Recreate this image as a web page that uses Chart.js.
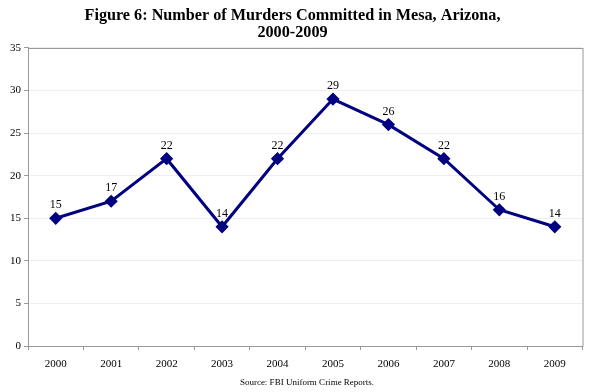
<!DOCTYPE html>
<html>
<head>
<meta charset="utf-8">
<script src="https://cdn.jsdelivr.net/npm/chart.js@4/dist/chart.umd.min.js"></script>
<style>
  html, body { margin: 0; padding: 0; background: #fff; }
  #wrap { width: 590px; height: 392px; }
</style>
</head>
<body>
<div id="wrap"><canvas id="murderChart"></canvas></div>
<script>
// Chart data
const years = ["2000", "2001", "2002", "2003", "2004", "2005", "2006", "2007", "2008", "2009"];
const murders = [15, 17, 22, 14, 22, 29, 26, 22, 16, 14];
const yTicks = [0, 5, 10, 15, 20, 25, 30, 35];
const sourceNote = "Source: FBI Uniform Crime Reports.";

// Draw the value above each point, a border around the plot area and the source note
const valueLabels = {
    id: "valueLabels",
    afterDatasetsDraw(chart) {
        const ctx = chart.ctx;
        const area = chart.chartArea;
        ctx.save();
        ctx.strokeStyle = "#999";
        ctx.lineWidth = 1;
        ctx.strokeRect(area.left + 0.5, area.top + 0.5, area.right - area.left, area.bottom - area.top);
        ctx.fillStyle = "#000";
        ctx.font = "12px 'Liberation Serif'";
        ctx.textAlign = "center";
        ctx.textBaseline = "bottom";
        chart.getDatasetMeta(0).data.forEach((pt, i) => {
            ctx.fillText(murders[i], pt.x, pt.y - 7);
        });
        ctx.font = "9px 'Liberation Serif'";
        ctx.textBaseline = "middle";
        ctx.fillText(sourceNote, 307, 383);
        ctx.restore();
    }
};

new Chart(document.getElementById("murderChart"), {
    type: "line",
    data: {
        labels: years,
        datasets: [{
            label: "Murders",
            data: murders,
            borderColor: "#000080",
            backgroundColor: "#000080",
            borderWidth: 3,
            pointStyle: "rectRot",
            pointRadius: 4.5,
            pointHoverRadius: 4.5,
            tension: 0
        }]
    },
    options: {
        responsive: true,
        maintainAspectRatio: false,
        animation: false,
        layout: { padding: { left: 0, right: 5, top: 0, bottom: 19 } },
        plugins: {
            legend: { display: false },
            tooltip: { enabled: false },
            title: {
                display: true,
                text: ["Figure 6: Number of Murders Committed in Mesa, Arizona,", "2000-2009"],
                color: "#000",
                font: { family: "'Liberation Serif'", size: 16.2, weight: "bold", lineHeight: 1.08 },
                padding: { top: 7, bottom: 6 }
            }
        },
        scales: {
            x: {
                offset: true,
                grid: { offset: true, drawOnChartArea: false, color: "#999", tickLength: 4 },
                border: { color: "#999" },
                ticks: { color: "#000", font: { family: "'Liberation Serif'", size: 11 }, padding: 8 },
                afterFit(scale) { scale.height = 27; }
            },
            y: {
                min: 0,
                max: 35,
                afterBuildTicks(scale) { scale.ticks = yTicks.map(v => ({ value: v })); },
                grid: { color: "#efefef", tickColor: "#999", tickLength: 4 },
                border: { color: "#999" },
                ticks: { color: "#000", font: { family: "'Liberation Serif'", size: 11 }, padding: 3 },
                afterFit(scale) { scale.width = 28; }
            }
        }
    },
    plugins: [valueLabels]
});
</script>
</body>
</html>
